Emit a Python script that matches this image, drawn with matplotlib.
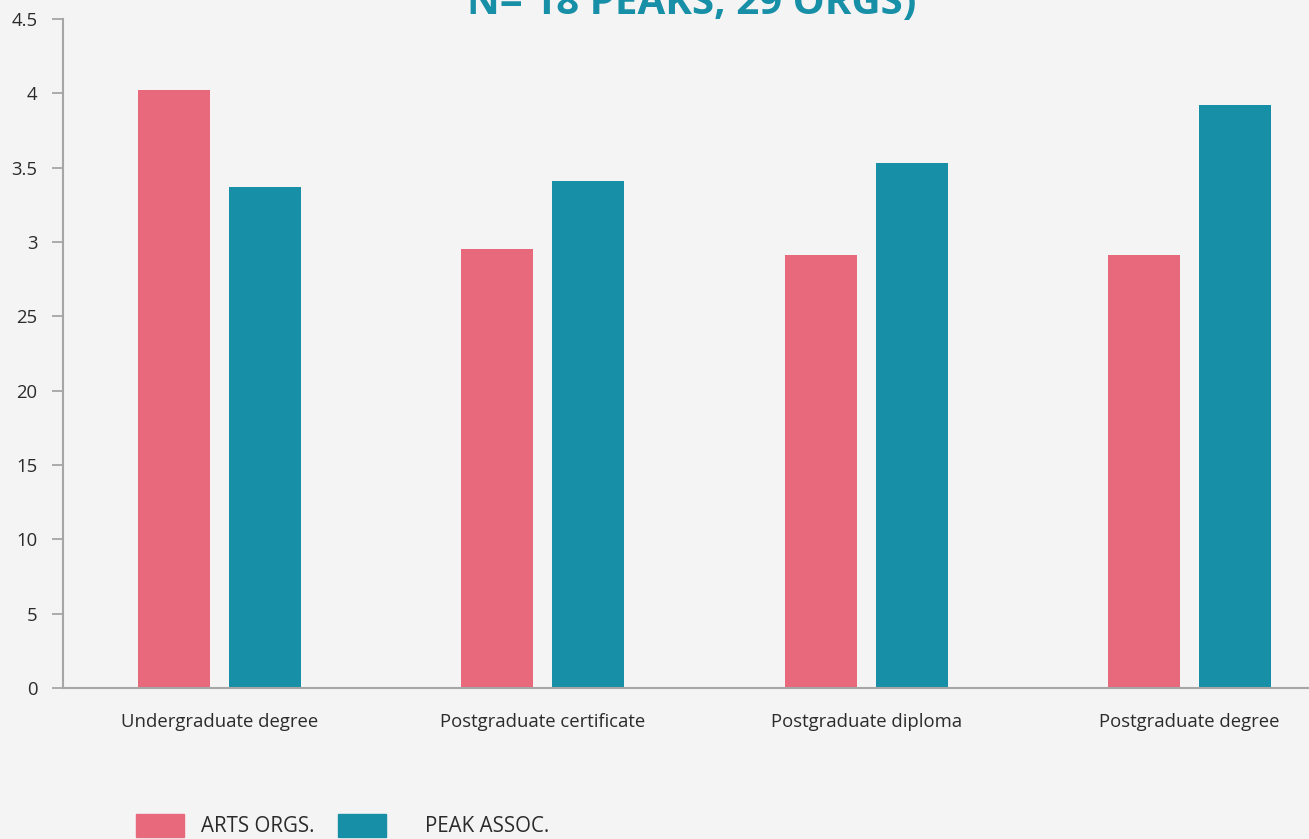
import matplotlib
matplotlib.use("Agg")
import matplotlib.pyplot as plt
from matplotlib.patches import Rectangle
import numpy as np

categories = ["Undergraduate degree", "Postgraduate certificate",
              "Postgraduate diploma", "Postgraduate degree"]
arts_orgs = [4.02, 2.95, 2.91, 2.91]
peak_assoc = [3.37, 3.41, 3.53, 3.92]
tick_values = [0, 0.5, 1, 1.5, 2, 2.5, 3, 3.5, 4, 4.5]
tick_labels = ["0", "5", "10", "15", "20", "25", "3", "3.5", "4", "4.5"]
series_names = ["ARTS ORGS.", "PEAK ASSOC."]
title_text = "N= 18 PEAKS, 29 ORGS)"

PINK = "#e8697b"
TEAL = "#168fa7"
BG = "#f4f4f4"
AXIS = "#a6a6a6"
TEXT = "#2b2b2b"

plt.rcParams["font.family"] = ["Open Sans", "DejaVu Sans"]

W, H = 1309, 839
fig = plt.figure(figsize=(W / 100, H / 100), dpi=100, facecolor=BG)
ax = fig.add_axes([63 / W, 1 - 688 / H, (W - 63) / W, (688 - 19) / H])
ax.set_facecolor(BG)

x = np.arange(len(categories))
bw = 0.2227
off = 0.1407
ax.bar(x - off, arts_orgs, width=bw, color=PINK, zorder=2)
ax.bar(x + off, peak_assoc, width=bw, color=TEAL, zorder=2)

ax.set_xlim(-0.484, 3.37)
ax.set_ylim(0, 4.5)
ax.set_yticks(tick_values)
ax.set_yticklabels(tick_labels, fontsize=13.3, color=TEXT)
ax.set_xticks(x)
ax.set_xticklabels(categories, fontsize=13.3, color=TEXT)
ax.tick_params(axis="x", length=0, pad=18)
ax.tick_params(axis="y", length=8, width=1.3, color=AXIS, pad=10.5)
for s in ["top", "right"]:
    ax.spines[s].set_visible(False)
for s in ["left", "bottom"]:
    ax.spines[s].set_color(AXIS)
    ax.spines[s].set_linewidth(1.5)

# title sits partly above the canvas
fig.text(692 / W, 1 - 14 / H, title_text, ha="center", va="baseline",
         fontsize=29, fontweight="bold", color=TEAL,
         fontstretch="condensed")

# legend drawn by hand along the bottom edge
def legend_item(x0, color, label, tx):
    fig.patches.append(Rectangle((x0 / W, 1 - 837 / H), 48 / W, 23 / H,
                                 transform=fig.transFigure, color=color))
    fig.text(tx / W, 1 - 826 / H, label, ha="left", va="center",
             fontsize=14.8, color=TEXT)

legend_item(136, PINK, series_names[0], 201)
legend_item(338, TEAL, series_names[1], 425)

fig.savefig("out.png", dpi=100, facecolor=BG)
